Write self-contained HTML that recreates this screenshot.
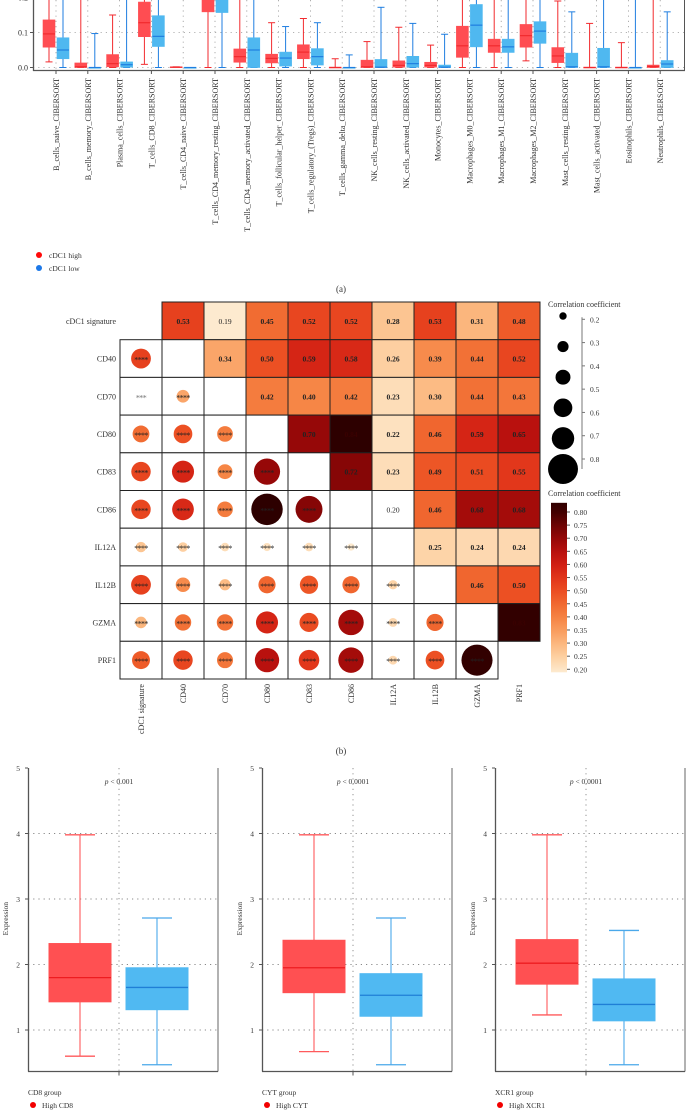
<!DOCTYPE html>
<html><head><meta charset="utf-8"><style>
html,body{margin:0;padding:0;background:#fff;}
svg{display:block;font-family:"Liberation Serif",serif;}
</style></head><body>
<svg id="fig" width="686" height="1110" viewBox="0 0 686 1110" xmlns="http://www.w3.org/2000/svg">
<defs>
<clipPath id="clipA"><rect x="33" y="0" width="652" height="71"/></clipPath>
<linearGradient id="cbar" x1="0" y1="1" x2="0" y2="0"></linearGradient>
</defs>
<g id="panelA"></g>
<g id="panelB"></g>
<g id="panelC"></g>
</svg>
<script>
// ---------- Panel A data ----------
const cellTypes = ["B_cells_naive_CIBERSORT","B_cells_memory_CIBERSORT","Plasma_cells_CIBERSORT","T_cells_CD8_CIBERSORT","T_cells_CD4_naive_CIBERSORT","T_cells_CD4_memory_resting_CIBERSORT","T_cells_CD4_memory_activated_CIBERSORT","T_cells_follicular_helper_CIBERSORT","T_cells_regulatory_(Tregs)_CIBERSORT","T_cells_gamma_delta_CIBERSORT","NK_cells_resting_CIBERSORT","NK_cells_activated_CIBERSORT","Monocytes_CIBERSORT","Macrophages_M0_CIBERSORT","Macrophages_M1_CIBERSORT","Macrophages_M2_CIBERSORT","Mast_cells_resting_CIBERSORT","Mast_cells_activated_CIBERSORT","Eosinophils_CIBERSORT","Neutrophils_CIBERSORT"];
const highLo  = [0.016,0,0,0.009,0.001,0,0,0,0,0,0,0,0,0,0,0.019,0,0,0,0];
const highQ1  = [0.058,0,0.002,0.088,0.001,0.159,0.015,0.013,0.025,0,0,0.001,0.001,0.029,0.043,0.058,0.014,0,0,0];
const highMed = [0.096,0.002,0.011,0.128,0.001,0.22,0.031,0.026,0.044,0,0.002,0.006,0.006,0.062,0.062,0.091,0.033,0,0,0.003];
const highQ3  = [0.136,0.013,0.037,0.187,0.002,0.3,0.053,0.038,0.065,0.001,0.021,0.019,0.015,0.118,0.081,0.123,0.057,0.001,0.001,0.007];
const highHi  = [0.3,0.3,0.15,0.3,0.002,0.4,0.3,0.128,0.14,0.025,0.074,0.115,0.064,0.3,0.3,0.3,0.19,0.126,0.071,0.3];
const lowLo   = [0,0,0,0,0,0,0,0,0,0,0,0,0,0,0,0,0,0,0,0];
const lowQ1   = [0.025,0,0.001,0.06,0,0.157,0,0.004,0.007,0,0,0.001,0,0.059,0.043,0.069,0,0,0,0];
const lowMed  = [0.05,0,0.008,0.089,0,0.22,0.05,0.027,0.031,0,0.001,0.011,0.001,0.121,0.059,0.104,0.002,0.002,0,0.01];
const lowQ3   = [0.085,0,0.016,0.148,0,0.3,0.085,0.044,0.054,0,0.023,0.032,0.007,0.18,0.081,0.131,0.041,0.055,0,0.02];
const lowHi   = [0.3,0.097,0.3,0.3,0,0.4,0.3,0.117,0.128,0.036,0.172,0.126,0.095,0.3,0.3,0.3,0.159,0.3,0.3,0.159];
const yTicksA = [0.0,0.1,0.2];

// ---------- Panel B data ----------
const genes = ["cDC1 signature","CD40","CD70","CD80","CD83","CD86","IL12A","IL12B","GZMA","PRF1"];
const corrRow0 = [null,0.53,0.19,0.45,0.52,0.52,0.28,0.53,0.31,0.48];
const corrRow1 = [0.53,null,0.34,0.50,0.59,0.58,0.26,0.39,0.44,0.52];
const corrRow2 = [0.19,0.34,null,0.42,0.40,0.42,0.23,0.30,0.44,0.43];
const corrRow3 = [0.45,0.50,0.42,null,0.70,0.84,0.22,0.46,0.59,0.65];
const corrRow4 = [0.52,0.59,0.40,0.70,null,0.72,0.23,0.49,0.51,0.55];
const corrRow5 = [0.52,0.58,0.42,0.84,0.72,null,0.20,0.46,0.68,0.68];
const corrRow6 = [0.28,0.26,0.23,0.22,0.23,0.20,null,0.25,0.24,0.24];
const corrRow7 = [0.53,0.39,0.30,0.46,0.49,0.46,0.25,null,0.46,0.50];
const corrRow8 = [0.31,0.44,0.44,0.59,0.51,0.68,0.24,0.46,null,0.83];
const corrRow9 = [0.48,0.52,0.43,0.65,0.55,0.68,0.24,0.50,0.83,null];
const sizeLegendVals = [0.2,0.3,0.4,0.5,0.6,0.7,0.8];
const colorbarTicks = [0.20,0.25,0.30,0.35,0.40,0.45,0.50,0.55,0.60,0.65,0.70,0.75,0.80];

// ---------- Panel C data ----------
const groupNames = ["CD8","CYT","XCR1"];
const pLabels = ["< 0.001","< 0.0001","< 0.0001"];
const cHighLo  = [0.60,0.67,1.23];
const cHighQ1  = [1.43,1.57,1.70];
const cHighMed = [1.80,1.95,2.02];
const cHighQ3  = [2.32,2.37,2.38];
const cHighHi  = [3.98,3.98,3.98];
const cLowLo   = [0.47,0.47,0.47];
const cLowQ1   = [1.31,1.21,1.14];
const cLowMed  = [1.65,1.53,1.39];
const cLowQ3   = [1.95,1.86,1.78];
const cLowHi   = [2.71,2.71,2.52];
const yTicksC = [1,2,3,4,5];

const NS="http://www.w3.org/2000/svg";
function el(tag, attrs, parent, text){
  const e=document.createElementNS(NS,tag);
  for(const k in attrs) e.setAttribute(k,attrs[k]);
  if(text!==undefined) e.textContent=text;
  parent.appendChild(e); return e;
}
const TXT="#333";

// ================= Panel A =================
(function(){
  const g=document.getElementById('panelA');
  const yA=v=>67.5-350*v;
  const xA=i=>56+i*31.8;
  const clip=el('g',{'clip-path':'url(#clipA)'},g);
  yTicksA.forEach(t=>{
    const l=el('line',{x1:33,x2:685,y1:yA(t),y2:yA(t),stroke:'#999','stroke-dasharray':'1.2,4','stroke-width':0.8},clip);
     
  });
  cellTypes.forEach((c,i)=>{
    el('line',{x1:xA(i),x2:xA(i),y1:0,y2:70,stroke:'#999','stroke-dasharray':'1.2,4','stroke-width':0.8},clip);
  });
  function box(i,off,lo,q1,md,q3,hi,fill,line,name){
    const bg=el('g',{},clip);
     
    const cx=xA(i)+off;
    el('line',{x1:cx,x2:cx,y1:yA(hi),y2:yA(lo),stroke:line,'stroke-width':1},bg);
    el('line',{x1:cx-3.5,x2:cx+3.5,y1:yA(hi),y2:yA(hi),stroke:line,'stroke-width':1},bg);
    el('line',{x1:cx-3.5,x2:cx+3.5,y1:yA(lo),y2:yA(lo),stroke:line,'stroke-width':1},bg);
    el('rect',{x:cx-6,y:yA(q3),width:12,height:Math.max(0.8,yA(q1)-yA(q3)),fill:fill,stroke:fill,'stroke-width':0.6},bg);
    el('line',{x1:cx-6,x2:cx+6,y1:yA(md),y2:yA(md),stroke:line,'stroke-width':1.2},bg);
  }
  cellTypes.forEach((c,i)=>{
    box(i,-7,highLo[i],highQ1[i],highMed[i],highQ3[i],highHi[i],'#ff4d52','#f22a2e','box-high-'+i);
    box(i,7,lowLo[i],lowQ1[i],lowMed[i],lowQ3[i],lowHi[i],'#4fb8f0','#1f7ee0','box-low-'+i);
  });
  el('line',{x1:33.5,x2:33.5,y1:0,y2:71,stroke:'#555','stroke-width':1.3},g);
  el('line',{x1:33,x2:685,y1:70.5,y2:70.5,stroke:'#555','stroke-width':1.3},g);
  el('line',{x1:684.5,x2:684.5,y1:0,y2:71,stroke:'#555','stroke-width':1},g);
  yTicksA.forEach(t=>{
    el('line',{x1:30,x2:33,y1:yA(t),y2:yA(t),stroke:'#555'},g);
    const tx=el('text',{x:28,y:yA(t)+3,'font-size':8,'text-anchor':'end',fill:TXT},g,t.toFixed(1));
     
  });
  cellTypes.forEach((c,i)=>{
    el('line',{x1:xA(i),x2:xA(i),y1:71,y2:74,stroke:'#555'},g);
    const t=el('text',{transform:`translate(${xA(i)+3},78) rotate(-90)`,'font-size':8,'text-anchor':'end',fill:TXT},g,c);
     
  });
  const lg=el('g',{},g);
   
  el('circle',{cx:39,cy:255,r:3,fill:'#ff0a0a'},lg);
  el('text',{x:49,y:258,'font-size':7.5,fill:TXT},lg,'cDC1 high');
  el('circle',{cx:39,cy:268,r:3,fill:'#1c78e8'},lg);
  el('text',{x:49,y:271,'font-size':7.5,fill:TXT},lg,'cDC1 low');
  const lab=el('text',{x:341,y:292,'font-size':9,'text-anchor':'middle',fill:TXT},g,'(a)');
   
})();

// ================= Panel B =================
const cmapStops=[[0.20,[253,234,207]],[0.25,[253,212,168]],[0.30,[252,187,132]],[0.35,[249,160,98]],[0.40,[246,134,70]],[0.45,[241,108,50]],[0.50,[236,80,35]],[0.55,[226,55,27]],[0.60,[210,32,20]],[0.65,[185,17,14]],[0.70,[150,8,8]],[0.75,[110,4,4]],[0.80,[66,0,0]],[0.85,[40,0,0]]];
function cmap(v){
  if(v<=cmapStops[0][0]) return 'rgb('+cmapStops[0][1].join(',')+')';
  for(let i=1;i<cmapStops.length;i++){
    if(v<=cmapStops[i][0]){
      const [a,ca]=cmapStops[i-1],[b,cb]=cmapStops[i];const t=(v-a)/(b-a);
      return 'rgb('+ca.map((x,k)=>Math.round(x+(cb[k]-x)*t)).join(',')+')';
    }
  }
  return 'rgb(40,0,0)';
}
(function(){
  const g=document.getElementById('panelB');
  const M=[corrRow0,corrRow1,corrRow2,corrRow3,corrRow4,corrRow5,corrRow6,corrRow7,corrRow8,corrRow9];
  const n=genes.length, x0=120, y0=302, cw=42, ch=37.7;
  const rad=v=>3.7+18.8*(v-0.2);
  for(let r=0;r<n;r++){
    const rl=el('text',{x:116,y:y0+r*ch+ch/2+3,'font-size':8,'text-anchor':'end',fill:TXT},g,genes[r]);
     
    for(let c=0;c<n;c++){
      if(r===c && (r===0||r===n-1)) continue;
      const x=x0+c*cw,y=y0+r*ch,v=M[r][c];
      const cg=el('g',{},g);
       
      if(c>r){
        const colored=!(r===5&&c===6);
        el('rect',{x:x,y:y,width:cw,height:ch,fill:colored?cmap(v):'#fff',stroke:'#222','stroke-width':1},cg);
        el('text',{x:x+cw/2,y:y+ch/2+3,'font-size':7.5,'font-weight':(colored&&v>0.2)?'bold':'normal','text-anchor':'middle',fill:v>0.78?'#3a0000':'#222'},cg,v.toFixed(2));
      } else {
        el('rect',{x:x,y:y,width:cw,height:ch,fill:'#fff',stroke:'#222','stroke-width':1},cg);
        if(c<r){
          let stars='****';
          if(v<0.2) stars='***';
          else { el('circle',{cx:x+cw/2,cy:y+ch/2,r:rad(v),fill:cmap(v)},cg); }
          if(r===5&&c===6) stars='**';
          el('text',{x:x+cw/2,y:y+ch/2+4,'font-size':8,'text-anchor':'middle','letter-spacing':'-0.6',fill:v<0.2?'#777':'#222'},cg,stars);
        }
      }
    }
    const cl=el('text',{transform:`translate(${x0+r*cw+cw/2+3},684) rotate(-90)`,'font-size':8,'text-anchor':'end',fill:TXT},g,genes[r]);
     
  }
  const sl=el('g',{},g);
   
  el('text',{x:548,y:307,'font-size':8,fill:TXT},sl,'Correlation coefficient');
  const sy=v=>319.3+(v-0.2)/0.6*139.7;
  [0.2,0.3,0.4,0.5,0.6,0.8].forEach((v,i)=>{
    el('circle',{cx:563,cy:316+i*30.6,r:rad(v)>15?15:rad(v),fill:'#000'},sl);
  });
  el('line',{x1:582,x2:582,y1:sy(0.2)-2,y2:sy(0.8)+10,stroke:'#777','stroke-width':1},sl);
  sizeLegendVals.forEach(v=>{
    el('line',{x1:582,x2:585,y1:sy(v),y2:sy(v),stroke:'#777'},sl);
    el('text',{x:590,y:sy(v)+3,'font-size':7.5,fill:TXT},sl,v.toFixed(1));
  });
  const grad=document.getElementById('cbar');
  cmapStops.forEach(s=>{
    if(s[0]>0.835) return;
    const t=(s[0]-0.2)/(0.835-0.2);
    el('stop',{offset:t,'stop-color':'rgb('+s[1].join(',')+')'},grad);
  });
  el('stop',{offset:1,'stop-color':cmap(0.835)},grad);
  const cb=el('g',{},g);
   
  el('text',{x:548,y:496,'font-size':8,fill:TXT},cb,'Correlation coefficient');
  const cy=v=>669.3-(v-0.2)/0.6*157.3;
  el('rect',{x:551,y:cy(0.835),width:16,height:cy(0.2)-cy(0.835)+3,fill:'url(#cbar)'},cb);
  colorbarTicks.forEach(v=>{
    el('line',{x1:567,x2:570,y1:cy(v),y2:cy(v),stroke:'#555'},cb);
    el('text',{x:574,y:cy(v)+3,'font-size':7.5,fill:TXT},cb,v.toFixed(2));
  });
  const lab=el('text',{x:341,y:754,'font-size':9,'text-anchor':'middle',fill:TXT},g,'(b)');
   
})();

// ================= Panel C =================
(function(){
  const g=document.getElementById('panelC');
  const axX=[28,262,495];
  const yC=v=>768+(5-v)*65.5;
  const bottom=1071.5;
  groupNames.forEach((nm,i)=>{
    const pg=el('g',{},g);
     
    const x=axX[i], w=190, mid=x+91;
    yTicksC.forEach(t=>{
      if(t<5) el('line',{x1:x,x2:x+w,y1:yC(t),y2:yC(t),stroke:'#888','stroke-dasharray':'1.2,4','stroke-width':0.9},pg);
      el('line',{x1:x-3,x2:x,y1:yC(t),y2:yC(t),stroke:'#555'},pg);
      el('text',{x:x-8,y:yC(t)+3,'font-size':7.5,'text-anchor':'end',fill:TXT},pg,String(t));
    });
    el('line',{x1:mid,x2:mid,y1:768,y2:bottom,stroke:'#888','stroke-dasharray':'1.2,4','stroke-width':0.9},pg);
    el('line',{x1:x+0.5,x2:x+0.5,y1:768,y2:bottom,stroke:'#555','stroke-width':1.3},pg);
    el('line',{x1:x+w,x2:x+w,y1:768,y2:bottom,stroke:'#666','stroke-width':1},pg);
    el('line',{x1:x,x2:x+w,y1:bottom,y2:bottom,stroke:'#555','stroke-width':1.3},pg);
    el('line',{x1:mid,x2:mid,y1:bottom,y2:bottom+4,stroke:'#555'},pg);
    const yt=el('text',{transform:`translate(${x-20},${yC(2.7)}) rotate(-90)`,'font-size':7.5,'text-anchor':'middle',fill:TXT},pg,'Expression');
     
    const pt=el('text',{x:mid,y:784,'font-size':7.5,'text-anchor':'middle',fill:TXT},pg);
    el('tspan',{'font-style':'italic'},pt,'p ');
    el('tspan',{},pt,pLabels[i]);
    function bx(cx,lo,q1,md,q3,hi,fill,line,cap){
      el('line',{x1:cx,x2:cx,y1:yC(hi),y2:yC(lo),stroke:cap,'stroke-width':1.1},pg);
      el('line',{x1:cx-15,x2:cx+15,y1:yC(hi),y2:yC(hi),stroke:cap,'stroke-width':1.3},pg);
      el('line',{x1:cx-15,x2:cx+15,y1:yC(lo),y2:yC(lo),stroke:cap,'stroke-width':1.3},pg);
      el('rect',{x:cx-31,y:yC(q3),width:62,height:yC(q1)-yC(q3),fill:fill,stroke:fill},pg);
      el('line',{x1:cx-31,x2:cx+31,y1:yC(md),y2:yC(md),stroke:line,'stroke-width':1.3},pg);
    }
    bx(x+52,cHighLo[i],cHighQ1[i],cHighMed[i],cHighQ3[i],cHighHi[i],'#ff5052','#ee1c20','#ff5a5c');
    bx(x+129,cLowLo[i],cLowQ1[i],cLowMed[i],cLowQ3[i],cLowHi[i],'#50b9f2','#1f7fd6','#4aa8ea');
    const lg=el('g',{},pg);
     
    el('text',{x:x,y:1095,'font-size':7.5,fill:TXT},lg,nm+' group');
    el('circle',{cx:x+5,cy:1105,r:3,fill:'#f20000'},lg);
    el('text',{x:x+14,y:1108,'font-size':7.5,fill:TXT},lg,'High '+nm);
  });
})();
</script>
</body></html>
